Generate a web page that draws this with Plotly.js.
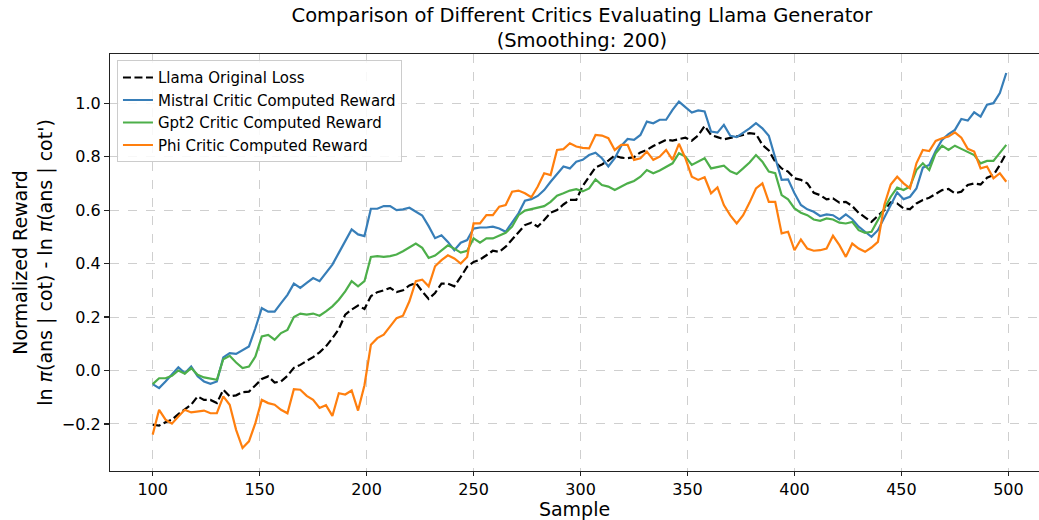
<!DOCTYPE html>
<html>
<head>
<meta charset="utf-8">
<script src="https://cdn.plot.ly/plotly-3.0.1.min.js"></script>
<style>html,body{margin:0;padding:0;background:#fff;}#chart{width:1039px;height:520px;}</style>
</head>
<body>
<div id="chart"></div>
<script>
const samples = [100,103,106,109,112,115,118,121,124,127,130,133,136,139,142,145,148,151,154,157,160,163,166,169,172,175,178,181,184,187,190,193,196,199,202,205,208,211,214,217,220,223,226,229,232,235,238,241,244,247,250,253,256,259,262,265,268,271,274,277,280,283,286,289,292,295,298,301,304,307,310,313,316,319,322,325,328,331,334,337,340,343,346,349,352,355,358,361,364,367,370,373,376,379,382,385,388,391,394,397,400,403,406,409,412,415,418,421,424,427,430,433,436,439,442,445,448,451,454,457,460,463,466,469,472,475,478,481,484,487,490,493,496,499];

const llamaLoss = [
-0.203,-0.206,-0.194,-0.184,-0.163,-0.147,-0.128,-0.097,-0.110,-0.110,
-0.122,-0.072,-0.097,-0.093,-0.081,-0.079,-0.057,-0.032,-0.022,-0.045,
-0.041,-0.020,0.010,0.021,0.036,0.050,0.068,0.090,0.121,0.155,
0.209,0.228,0.243,0.230,0.278,0.293,0.300,0.309,0.293,0.300,
0.318,0.328,0.296,0.268,0.290,0.325,0.325,0.315,0.350,0.388,
0.406,0.415,0.431,0.448,0.444,0.463,0.490,0.515,0.544,0.553,
0.538,0.563,0.590,0.600,0.621,0.638,0.638,0.690,0.723,0.760,
0.771,0.785,0.804,0.796,0.794,0.798,0.816,0.825,0.840,0.853,
0.863,0.860,0.865,0.871,0.860,0.879,0.915,0.881,0.873,0.865,
0.870,0.875,0.881,0.888,0.885,0.844,0.823,0.781,0.756,0.744,
0.719,0.713,0.700,0.665,0.656,0.640,0.644,0.628,0.631,0.615,
0.590,0.573,0.556,0.579,0.600,0.629,0.625,0.606,0.604,0.625,
0.638,0.646,0.659,0.675,0.679,0.663,0.669,0.694,0.700,0.696,
0.721,0.731,0.769,0.813];

const mistralReward = [
-0.051,-0.066,-0.041,-0.016,0.012,-0.010,0.015,-0.022,-0.041,-0.050,
-0.041,0.049,0.065,0.062,0.075,0.090,0.158,0.233,0.220,0.220,
0.252,0.283,0.325,0.309,0.328,0.346,0.334,0.365,0.396,0.440,
0.484,0.528,0.509,0.503,0.605,0.605,0.615,0.615,0.600,0.603,
0.609,0.596,0.580,0.540,0.495,0.506,0.481,0.450,0.478,0.488,
0.531,0.535,0.535,0.538,0.531,0.519,0.556,0.588,0.635,0.641,
0.653,0.675,0.706,0.734,0.763,0.756,0.781,0.788,0.806,0.815,
0.794,0.763,0.794,0.840,0.866,0.863,0.881,0.931,0.925,0.938,
0.938,0.975,1.006,0.985,0.965,0.973,0.969,0.894,0.890,0.919,
0.878,0.873,0.888,0.906,0.925,0.906,0.878,0.800,0.713,0.715,
0.663,0.619,0.603,0.594,0.578,0.584,0.581,0.565,0.584,0.566,
0.538,0.519,0.500,0.525,0.575,0.619,0.666,0.641,0.650,0.681,
0.759,0.769,0.821,0.863,0.884,0.900,0.941,0.935,0.966,0.950,
0.994,1.000,1.038,1.113];

const gpt2Reward = [
-0.051,-0.029,-0.029,-0.020,0.000,-0.012,0.009,-0.016,-0.026,-0.031,
-0.035,0.042,0.055,0.030,0.009,0.015,0.052,0.127,0.133,0.115,
0.140,0.152,0.200,0.213,0.209,0.213,0.205,0.221,0.240,0.265,
0.296,0.334,0.315,0.334,0.425,0.428,0.425,0.428,0.434,0.446,
0.461,0.475,0.459,0.421,0.430,0.448,0.468,0.456,0.441,0.448,
0.494,0.478,0.494,0.494,0.506,0.515,0.538,0.581,0.598,0.604,
0.610,0.615,0.631,0.654,0.663,0.673,0.678,0.670,0.681,0.715,
0.694,0.688,0.675,0.688,0.700,0.709,0.725,0.750,0.738,0.748,
0.763,0.775,0.813,0.800,0.769,0.781,0.794,0.756,0.760,0.766,
0.745,0.735,0.756,0.778,0.806,0.781,0.744,0.738,0.656,0.640,
0.606,0.590,0.581,0.565,0.560,0.569,0.565,0.553,0.550,0.556,
0.525,0.515,0.519,0.563,0.604,0.650,0.684,0.675,0.688,0.750,
0.775,0.750,0.813,0.841,0.825,0.841,0.829,0.816,0.806,0.775,
0.784,0.784,0.813,0.844];

const phiReward = [
-0.240,-0.147,-0.184,-0.199,-0.172,-0.147,-0.157,-0.153,-0.150,-0.160,
-0.160,-0.097,-0.128,-0.222,-0.290,-0.265,-0.197,-0.110,-0.122,-0.128,
-0.147,-0.160,-0.070,-0.072,-0.095,-0.110,-0.140,-0.130,-0.170,-0.085,
-0.090,-0.075,-0.150,-0.055,0.096,0.121,0.134,0.165,0.196,0.205,
0.259,0.334,0.340,0.315,0.390,0.413,0.431,0.419,0.400,0.425,
0.550,0.550,0.581,0.581,0.613,0.619,0.669,0.673,0.663,0.648,
0.688,0.738,0.731,0.825,0.828,0.850,0.838,0.833,0.831,0.881,
0.879,0.869,0.825,0.844,0.844,0.788,0.794,0.819,0.788,0.800,
0.825,0.788,0.848,0.794,0.725,0.713,0.723,0.663,0.685,0.619,
0.580,0.550,0.581,0.628,0.681,0.700,0.631,0.631,0.513,0.519,
0.450,0.490,0.456,0.448,0.450,0.456,0.504,0.469,0.425,0.475,
0.456,0.444,0.460,0.481,0.619,0.696,0.725,0.700,0.681,0.775,
0.825,0.821,0.859,0.869,0.875,0.891,0.871,0.829,0.819,0.756,
0.763,0.719,0.738,0.706];

const seriesNames = ["Llama Original Loss","Mistral Critic Computed Reward","Gpt2 Critic Computed Reward","Phi Critic Computed Reward"];
const xTicks = [100,150,200,250,300,350,400,450,500];
const yTicks = [-0.2,0,0.2,0.4,0.6,0.8,1.0];
const yTickText = ["\u22120.2","0.0","0.2","0.4","0.6","0.8","1.0"];

const FONT = "DejaVu Sans, Liberation Sans, sans-serif";
const traces = [
  {x: samples, y: llamaLoss, name: seriesNames[0], mode: "lines", line: {color: "#000000", width: 2.2, dash: "8px,3.5px"}},
  {x: samples, y: mistralReward, name: seriesNames[1], mode: "lines", line: {color: "#377eb8", width: 2.2}},
  {x: samples, y: gpt2Reward, name: seriesNames[2], mode: "lines", line: {color: "#4daf4a", width: 2.2}},
  {x: samples, y: phiReward, name: seriesNames[3], mode: "lines", line: {color: "#ff7f0e", width: 2.2}}
];

const layout = {
  width: 1039, height: 520,
  margin: {l: 110, r: 0, t: 54, b: 49, pad: 0},
  paper_bgcolor: "#fff", plot_bgcolor: "#fff",
  font: {family: FONT, color: "#000", size: 16},
  title: {text: "Comparison of Different Critics Evaluating Llama Generator<br>(Smoothing: 200)",
          font: {family: FONT, size: 19.5, color: "#000"}, x: 0.508, xref: "paper", xanchor: "center", y: 0.958, yanchor: "top"},
  showlegend: true,
  legend: {x: 0.0075, y: 0.985, xanchor: "left", yanchor: "top", bgcolor: "rgba(255,255,255,0.85)",
           bordercolor: "#cccccc", borderwidth: 1, font: {family: FONT, size: 15, color: "#000"},
           tracegroupgap: 0, itemwidth: 30},
  xaxis: {range: [80.05, 514.3], tickmode: "array", tickvals: xTicks, ticktext: xTicks.map(String),
          showgrid: true, gridcolor: "#cfcfcf", griddash: "dash", gridwidth: 1,
          zeroline: false, showline: true, linecolor: "#222", linewidth: 1.1, mirror: true,
          ticks: "outside", ticklen: 4, tickwidth: 1.1, tickcolor: "#222",
          tickfont: {family: FONT, size: 16, color: "#000"},
          title: {text: "Sample", font: {family: FONT, size: 19, color: "#000"}, standoff: 6}},
  yaxis: {range: [-0.376, 1.184], tickmode: "array", tickvals: yTicks, ticktext: yTickText,
          showgrid: true, gridcolor: "#cfcfcf", griddash: "dash", gridwidth: 1,
          zeroline: false, showline: true, linecolor: "#222", linewidth: 1.1, mirror: false,
          ticks: "outside", ticklen: 5, tickwidth: 1.1, tickcolor: "#222",
          tickfont: {family: FONT, size: 16, color: "#000"},
          title: {text: "Normalized Reward<br>ln <i>π</i>(ans | cot) - ln <i>π</i>(ans | cot')",
                  font: {family: FONT, size: 19, color: "#000"}, standoff: 4}}
};

Plotly.newPlot("chart", traces, layout, {staticPlot: true, displayModeBar: false});
</script>
</body>
</html>
